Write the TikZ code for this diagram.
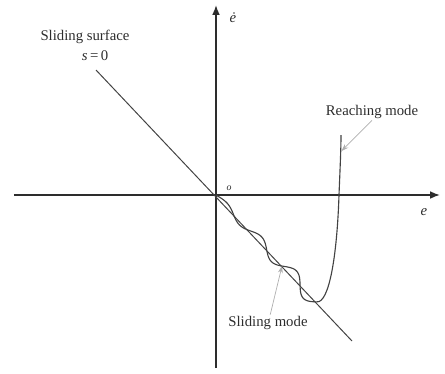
\documentclass[tikz,border=0pt]{standalone}
\usepackage{fontspec}
\setmainfont{Liberation Serif}
\definecolor{axisgray}{RGB}{45,45,45}
\definecolor{notegray}{RGB}{175,175,175}
\usetikzlibrary{arrows.meta}
\tikzset{
  axis/.style={draw=axisgray, line width=1.1pt, -{Latex[length=7pt,width=5.5pt]}},
  surf/.style={draw=axisgray!90, line width=0.7pt},
  traj/.style={draw=axisgray!90, line width=0.8pt},
  note/.style={draw=notegray, line width=0.5pt, -{Stealth[length=5pt,width=3.5pt]}},
  lbl/.style={font=\fontsize{10.5}{12}\selectfont, inner sep=1pt, text=axisgray}
}

\begin{document}
\begin{tikzpicture}[x=0.25mm, y=0.25mm,
  declare function={wv(\t)=(2+0.04*\t)*sin(7.3469*\t);}]
  \useasboundingbox (-216,-178) rectangle (229,195);
  % Axes
  \coordinate (xl) at (-202,0);
  \coordinate (xr) at (224,0);
  \coordinate (yb) at (0,-173);
  \coordinate (yt) at (0,190);
  \draw[axis] (xl) -- (xr);
  \draw[axis] (yb) -- (yt);
  \node[lbl] (edot) at (17,177) {\textit{ė}};
  \node[lbl] (elbl) at (208,-17) {\textit{e}};
  \node[lbl, font=\fontsize{7}{8}\selectfont] (olbl) at (13,7) {\textit{o}};
  % Sliding surface
  \coordinate (sa) at (-120,125);
  \coordinate (sb) at (136,-146);
  \draw[surf] (sa) -- (sb);
  \node[lbl] (surflbl) at (-131,158) {Sliding surface};
  \node[lbl] (slbl) at (-121,139) {\textit{s}\,=\,0};
  % Trajectory: chattering along s=0, then reaching phase
  \draw[traj] plot[domain=0:147, samples=160, smooth]
      ({0.686*\x+0.727*wv(\x)}, {-0.727*\x+0.686*wv(\x)})
      .. controls (113,-108) and (121,-62) .. (123,0)
      .. controls (124,25) and (125,45) .. (125,60);
  % Annotations
  \coordinate (rc) at (125.5,44);
  \coordinate (sc) at (66,-71);
  \node[lbl] (reachlbl) at (156,83) {Reaching mode};
  \node[lbl] (slidelbl) at (52,-128) {Sliding mode};
  \draw[note] (reachlbl.south) -- (rc);
  \draw[note] (slidelbl.75) -- (sc);
\end{tikzpicture}
\end{document}
